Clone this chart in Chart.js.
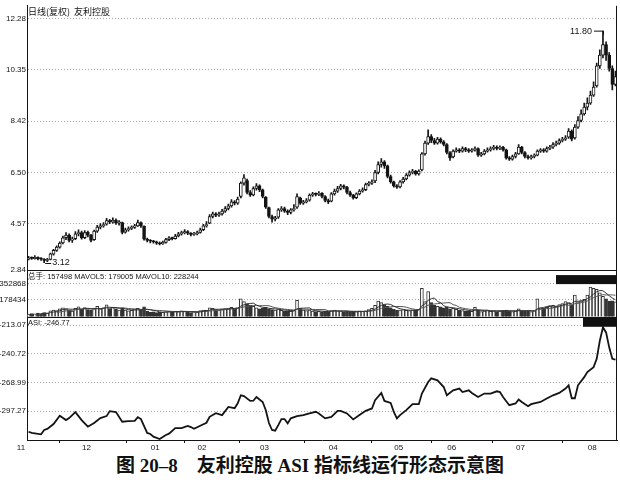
<!DOCTYPE html>
<html><head><meta charset="utf-8">
<script src="https://cdn.jsdelivr.net/npm/chart.js@4/dist/chart.umd.min.js"></script>
<style>
html,body{margin:0;padding:0;background:#fff;}
#wrap{position:relative;width:620px;height:484px;overflow:hidden;}
#c{position:absolute;left:0;top:0;}
#cap{position:absolute;left:0;top:456px;width:620px;text-align:center;font:bold 19px "Liberation Serif","Noto Sans CJK SC",serif;line-height:20px;white-space:pre;color:#111;}
</style></head><body>
<div id="wrap"><canvas id="c" width="620" height="452"></canvas><div id="cap">图 20–8　友利控股 ASI 指标线运行形态示意图</div></div>
<script>
// ---- data ----
const monthLabels   = ['11','12','01','02','03','04','05','06','07','08'];
const monthStartDay = [0,21,43,58,78,100,121,138,160,183];
const priceTicks = [2.84,4.57,6.50,8.42,10.35,12.28];
const volTicks   = [178434,352868];
const asiTicks   = [-297.27,-268.99,-240.72,-213.07];

const open = [
3.25,3.31,3.27,3.32,3.27,3.24,3.20,3.24,3.44,3.58,
3.70,3.86,4.06,4.15,3.96,4.02,4.20,4.25,4.06,4.26,
4.15,3.98,4.30,4.45,4.50,4.56,4.70,4.64,4.72,4.60,
4.62,4.26,4.35,4.40,4.44,4.50,4.62,4.48,4.00,3.95,
3.92,3.90,3.85,3.82,3.88,3.98,4.05,4.02,4.12,4.20,
4.24,4.28,4.22,4.18,4.20,4.25,4.36,4.50,4.60,4.85,
4.95,4.90,4.95,5.05,5.15,5.25,5.40,5.35,5.60,6.10,
6.20,5.75,5.66,5.90,6.00,5.85,5.58,5.18,4.85,4.75,
4.82,5.10,5.15,5.05,5.00,5.10,5.20,5.55,5.35,5.40,
5.46,5.65,5.70,5.68,5.72,5.60,5.45,5.42,5.70,5.80,
5.90,6.00,5.95,5.75,5.65,5.56,5.70,5.80,5.86,6.05,
6.10,6.18,6.50,6.80,6.90,6.75,6.35,6.15,6.00,5.96,
6.15,6.26,6.40,6.50,6.55,6.45,6.60,7.20,7.60,7.85,
7.70,7.60,7.75,7.65,7.55,7.25,7.08,7.30,7.35,7.30,
7.40,7.35,7.30,7.35,7.40,7.15,7.20,7.30,7.35,7.40,
7.45,7.40,7.45,7.35,7.05,7.00,7.10,7.20,7.45,7.25,
7.10,7.05,7.10,7.15,7.30,7.35,7.30,7.40,7.45,7.55,
7.60,7.70,7.75,7.82,8.05,7.80,8.20,8.45,8.70,8.95,
9.10,9.40,9.75,10.50,10.90,11.30,10.90,10.40,9.80];
const close = [
3.30,3.28,3.32,3.26,3.25,3.20,3.22,3.45,3.58,3.70,
3.85,4.05,4.15,3.95,4.00,4.20,4.25,4.05,4.25,4.15,
3.95,4.30,4.45,4.50,4.55,4.70,4.65,4.72,4.60,4.65,
4.25,4.35,4.40,4.45,4.50,4.62,4.50,4.00,3.95,3.92,
3.90,3.85,3.82,3.88,3.98,4.05,4.02,4.12,4.20,4.25,
4.28,4.22,4.18,4.20,4.25,4.35,4.50,4.55,4.85,4.95,
4.90,4.95,5.05,5.15,5.25,5.40,5.35,5.50,6.10,6.30,
5.75,5.65,5.90,6.00,5.85,5.60,5.20,4.85,4.75,4.80,
5.10,5.15,5.05,5.00,5.10,5.15,5.60,5.35,5.40,5.45,
5.65,5.70,5.68,5.72,5.60,5.45,5.40,5.70,5.80,5.90,
6.00,5.95,5.75,5.65,5.55,5.70,5.80,5.85,6.05,6.10,
6.15,6.50,6.80,6.90,6.75,6.35,6.15,6.00,5.95,6.15,
6.25,6.40,6.50,6.55,6.45,6.55,7.20,7.60,7.85,7.70,
7.60,7.75,7.65,7.55,7.25,7.05,7.30,7.35,7.30,7.40,
7.35,7.30,7.35,7.40,7.15,7.20,7.30,7.35,7.40,7.45,
7.40,7.45,7.35,7.05,7.00,7.10,7.20,7.45,7.25,7.10,
7.05,7.10,7.15,7.30,7.35,7.30,7.40,7.45,7.55,7.60,
7.70,7.75,7.80,8.05,7.75,8.20,8.45,8.70,8.95,9.10,
9.40,9.70,10.50,10.90,11.30,10.90,10.40,9.80,10.10];
const high = [
3.36,3.34,3.38,3.34,3.31,3.27,3.28,3.48,3.62,3.75,
3.90,4.12,4.25,4.20,4.08,4.28,4.35,4.30,4.32,4.30,
4.18,4.34,4.52,4.58,4.62,4.78,4.74,4.80,4.76,4.70,
4.64,4.42,4.46,4.50,4.56,4.72,4.65,4.50,4.04,3.98,
3.96,3.93,3.90,3.93,4.03,4.10,4.08,4.18,4.26,4.30,
4.36,4.32,4.25,4.26,4.30,4.42,4.56,4.66,4.92,5.02,
5.00,5.02,5.12,5.22,5.32,5.48,5.45,5.58,6.15,6.42,
6.25,5.82,5.96,6.08,6.04,5.88,5.60,5.20,4.90,4.86,
5.15,5.22,5.20,5.10,5.15,5.30,5.70,5.58,5.46,5.52,
5.70,5.76,5.74,5.78,5.75,5.63,5.50,5.75,5.88,5.98,
6.06,6.04,5.98,5.80,5.68,5.74,5.86,5.92,6.10,6.16,
6.22,6.58,6.90,7.02,6.95,6.78,6.40,6.18,6.05,6.20,
6.32,6.46,6.56,6.62,6.58,6.60,7.25,7.68,8.10,7.92,
7.78,7.82,7.80,7.70,7.58,7.28,7.35,7.42,7.40,7.46,
7.44,7.40,7.40,7.46,7.42,7.26,7.36,7.42,7.46,7.52,
7.50,7.50,7.48,7.38,7.10,7.15,7.26,7.55,7.48,7.28,
7.15,7.15,7.20,7.35,7.40,7.40,7.46,7.52,7.62,7.68,
7.76,7.82,7.88,8.15,8.10,8.30,8.60,8.85,9.10,9.30,
9.55,9.90,10.60,11.10,11.80,11.40,11.00,10.50,10.30];
const low = [
3.22,3.24,3.25,3.22,3.20,3.12,3.16,3.22,3.40,3.54,
3.66,3.82,3.98,3.90,3.88,3.98,4.12,4.00,4.02,4.08,
3.90,3.95,4.25,4.38,4.45,4.52,4.58,4.60,4.55,4.52,
4.20,4.22,4.30,4.36,4.40,4.48,4.44,3.96,3.90,3.86,
3.85,3.80,3.78,3.80,3.85,3.94,3.97,4.00,4.08,4.15,
4.20,4.17,4.12,4.14,4.16,4.22,4.32,4.45,4.58,4.80,
4.84,4.85,4.90,5.00,5.10,5.20,5.28,5.30,5.55,6.02,
5.70,5.60,5.62,5.84,5.78,5.55,5.15,4.80,4.64,4.68,
4.78,5.04,5.00,4.92,4.95,5.05,5.15,5.30,5.30,5.36,
5.42,5.60,5.62,5.63,5.55,5.40,5.33,5.40,5.65,5.75,
5.85,5.88,5.70,5.60,5.50,5.52,5.66,5.76,5.82,6.00,
6.05,6.12,6.45,6.70,6.65,6.30,6.10,5.95,5.90,5.92,
6.10,6.22,6.36,6.45,6.40,6.40,6.56,7.15,7.55,7.62,
7.55,7.56,7.60,7.50,7.20,6.95,7.05,7.26,7.24,7.26,
7.28,7.25,7.26,7.30,7.10,7.10,7.16,7.26,7.30,7.35,
7.35,7.36,7.30,7.00,6.95,6.96,7.05,7.18,7.20,7.05,
7.00,7.00,7.05,7.12,7.25,7.25,7.26,7.36,7.40,7.50,
7.55,7.65,7.70,7.78,7.68,7.75,8.15,8.40,8.65,8.85,
9.05,9.35,9.70,10.40,10.80,10.70,10.30,9.60,9.75];
const volume = [
28000,35000,30000,38000,33000,45000,40000,
62000,70000,66000,85000,95000,88000,
72000,60000,90000,105000,80000,98000,75000,68000,
92000,110000,85000,95000,125000,88000,100000,80000,72000,95000,
70000,62000,68000,75000,90000,70000,105000,60000,48000,52000,45000,50000,46000,55000,58000,
50000,60000,55000,62000,58000,48000,45000,52000,50000,65000,70000,68000,
95000,90000,75000,70000,82000,88000,92000,100000,85000,95000,
190000,160000,
140000,120000,110000,95000,85000,90000,
100000,80000,75000,70000,82000,68000,60000,62000,58000,65000,
175000,
90000,70000,65000,72000,60000,55000,58000,52000,60000,
55000,65000,70000,62000,60000,55000,58000,50000,52000,55000,60000,58000,62000,75000,90000,
120000,165000,150000,130000,110000,95000,
80000,72000,70000,75000,68000,65000,70000,72000,78000,
300000,160000,265000,150000,
120000,110000,105000,95000,100000,85000,90000,80000,
70000,65000,60000,62000,58000,100000,70000,55000,60000,65000,58000,62000,55000,60000,68000,72000,60000,55000,58000,85000,62000,58000,60000,
55000,65000,
190000,
95000,90000,100000,110000,120000,115000,130000,140000,160000,
150000,
130000,230000,150000,170000,185000,
230000,315000,300000,289000,253415,
215000,190000,165000,167527,157498];

const asiDay = [0,1,4,5,6,8,10,12,13,15,17,19,21,23,25,26,28,30,32,34,35,36,38,39,40,42,44,45,47,49,51,52,53,55,57,58,60,62,64,66,67,68,69,71,72,73,75,76,77,78,79,80,81,82,83,84,86,88,90,92,93,95,97,99,100,102,104,106,108,110,111,113,114,116,117,118,119,121,123,125,126,128,129,131,133,134,136,138,139,141,142,144,146,148,150,151,152,154,156,157,158,160,161,164,166,168,170,172,173,174,175,176,178,179,181,182,183,184,185,186,187,188];
const asiValue = [-317.4,-318.6,-319.9,-315.7,-314.7,-309.9,-301.8,-306.0,-304.0,-298.2,-306.0,-312.5,-308.9,-304.0,-302.1,-297.2,-298.2,-307.6,-307.0,-306.7,-303.1,-305.0,-318.6,-319.6,-322.2,-324.5,-320.6,-319.3,-313.8,-313.8,-311.8,-312.8,-314.5,-311.5,-308.6,-302.8,-299.2,-301.1,-293.1,-294.3,-289.5,-281.7,-282.4,-287.2,-287.0,-283.3,-288.2,-296.3,-308.9,-315.7,-316.4,-310.9,-305.0,-305.0,-309.2,-304.3,-302.1,-301.1,-299.5,-297.9,-299.5,-304.3,-302.8,-296.9,-296.9,-299.5,-305.3,-301.1,-296.9,-294.6,-286.5,-279.4,-287.2,-289.2,-297.9,-304.3,-301.1,-296.3,-290.4,-290.4,-280.0,-268.7,-265.1,-267.1,-273.6,-281.7,-276.8,-275.1,-278.5,-276.8,-279.4,-283.3,-280.0,-280.0,-277.8,-278.5,-283.3,-291.4,-289.7,-285.9,-288.2,-292.4,-290.4,-288.2,-284.9,-281.7,-279.4,-275.1,-271.9,-284.6,-284.6,-271.9,-263.9,-259.0,-254.1,-246.0,-228.2,-215.2,-220.1,-234.7,-246.0,-246.77];

// ---- derived ----
const N = close.length;
const days = close.map((_, i) => i);
function movingAvg(arr, n) {
  return arr.map((_, i) => i < n - 1 ? null : arr.slice(i - n + 1, i + 1).reduce((a, b) => a + b, 0) / n);
}
const ma5 = movingAvg(volume, 5);
const ma10 = movingAvg(volume, 10);
const isUp = days.map(i => close[i] >= open[i]);

const INK = '#141414';
const GRID = '#a8a8a8';
const tickFont = {family: '"Liberation Sans", Arial, sans-serif', size: 8};

const overlay = {
  id: 'overlay',
  afterDraw(chart) {
    const {ctx, chartArea: ca, scales} = chart;
    const sy = scales.y, sv = scales.yv, sa = scales.ya, sx = scales.x;
    ctx.save();
    ctx.strokeStyle = INK; ctx.lineWidth = 1;
    [sy.bottom, sv.bottom].forEach(yy => {
      const p = Math.round(yy) + 0.5;
      ctx.beginPath(); ctx.moveTo(ca.left, p); ctx.lineTo(ca.right, p); ctx.stroke();
    });
    ctx.beginPath(); ctx.moveTo(Math.round(ca.right) - 0.5, ca.top); ctx.lineTo(Math.round(ca.right) - 0.5, ca.bottom); ctx.stroke();

    // black tag boxes
    ctx.fillStyle = '#111';
    ctx.fillRect(ca.right - 61, sv.top + 5, 61, 9);
    ctx.fillRect(ca.right - 34, sa.top + 1, 34, 9);

    // panel captions
    ctx.fillStyle = INK; ctx.textAlign = 'left'; ctx.textBaseline = 'top';
    ctx.font = '9px "Noto Sans CJK SC", sans-serif';
    ctx.fillText('日线(复权)  友利控股', ca.left + 1, sy.top + 1);
    ctx.font = '7.5px "Liberation Sans", "Noto Sans CJK SC", sans-serif';
    const vtxt = '总手: ' + volume[N - 1] + ' MAVOL5: ' + Math.round(ma5[N - 1]) + ' MAVOL10: ' + Math.round(ma10[N - 1]);
    ctx.fillText(vtxt, ca.left + 1, sv.top + 3);
    ctx.fillText('ASI: ' + asiValue[asiValue.length - 1].toFixed(2), ca.left + 1, sa.top + 2);

    // min / max annotations
    const lo = Math.min(...low), hi = Math.max(...high);
    const iLo = low.indexOf(lo), iHi = high.indexOf(hi);
    ctx.font = '9px "Liberation Sans", sans-serif';
    ctx.textBaseline = 'middle';
    let px = sx.getPixelForValue(iLo), py = sy.getPixelForValue(lo);
    ctx.beginPath(); ctx.moveTo(px + 1, Math.round(py) + 0.5); ctx.lineTo(px + 7, Math.round(py) + 0.5); ctx.stroke();
    ctx.fillText(lo.toFixed(2), px + 8, py);
    px = sx.getPixelForValue(iHi); py = sy.getPixelForValue(hi);
    ctx.beginPath(); ctx.moveTo(Math.round(px) + 0.5, py + 4); ctx.lineTo(Math.round(px) + 0.5, py); ctx.lineTo(px - 9, py); ctx.stroke();
    ctx.textAlign = 'right';
    ctx.fillText(hi.toFixed(2), px - 11, py);
    ctx.restore();
  }
};

function yAxis(stackWeight, weight, min, max, tickVals, fmt) {
  return {
    type: 'linear', position: 'left', stack: 'panels', stackWeight, weight, min, max,
    afterBuildTicks: s => { s.ticks = tickVals.map(v => ({value: v})); },
    afterFit: s => { s.width = 27; },
    ticks: {autoSkip: false, padding: 1, color: INK, font: tickFont, callback: fmt},
    grid: {color: GRID, lineWidth: 1, drawTicks: false},
    border: {color: INK, width: 1, dash: [1, 2]}
  };
}

new Chart(document.getElementById('c'), {
  type: 'bar',
  data: {
    datasets: [
      {type: 'line', label: 'ASI', yAxisID: 'ya', data: asiDay.map((d, k) => ({x: d, y: asiValue[k]})),
       borderColor: INK, borderWidth: 1.8, pointRadius: 0, tension: 0, order: 0},
      {type: 'line', label: 'MAVOL5', yAxisID: 'yv', data: days.map(i => ({x: i, y: ma5[i]})),
       borderColor: '#333', borderWidth: 1, pointRadius: 0, tension: 0, order: 0},
      {type: 'line', label: 'MAVOL10', yAxisID: 'yv', data: days.map(i => ({x: i, y: ma10[i]})),
       borderColor: '#555', borderWidth: 1, pointRadius: 0, tension: 0, order: 0},
      {label: 'body', yAxisID: 'y', data: days.map(i => ({x: i, y: [open[i], close[i]]})),
       barThickness: 3, minBarLength: 1, grouped: false, borderSkipped: false,
       backgroundColor: days.map(i => isUp[i] ? '#fff' : INK), borderColor: INK, borderWidth: 1, order: 1},
      {label: 'wick', yAxisID: 'y', data: days.map(i => ({x: i, y: [low[i], high[i]]})),
       barThickness: 1, grouped: false, backgroundColor: INK, order: 2},
      {label: 'volume', yAxisID: 'yv', data: days.map(i => ({x: i, y: volume[i]})),
       barThickness: 3, grouped: false, borderSkipped: 'start',
       backgroundColor: days.map(i => isUp[i] ? '#fff' : '#333'), borderColor: '#333', borderWidth: 1, order: 3}
    ]
  },
  options: {
    responsive: false, animation: false,
    layout: {padding: {top: 3, right: 3, left: 0, bottom: 0}},
    plugins: {legend: {display: false}, tooltip: {enabled: false}},
    scales: {
      x: {type: 'linear', position: 'bottom', min: -0.5, max: N - 0.5, offset: false,
          afterBuildTicks: s => { s.ticks = monthStartDay.map(d => ({value: d - 0.5})); },
          afterFit: s => { s.height = 12; },
          ticks: {autoSkip: false, maxRotation: 0, padding: 0, color: INK, font: tickFont, labelOffset: -6,
                  callback: (v, i) => monthLabels[i]},
          grid: {drawOnChartArea: false, tickLength: 3, color: INK},
          border: {color: INK, width: 1}},
      y:  yAxis(266, 3, 2.84, 12.75, priceTicks, v => v.toFixed(2)),
      yv: yAxis(47, 2, 0, 493000, volTicks, v => String(v)),
      ya: yAxis(124, 1, -325.5, -204.8, asiTicks, v => v.toFixed(2))
    }
  },
  plugins: [overlay]
});
</script>
</body></html>
